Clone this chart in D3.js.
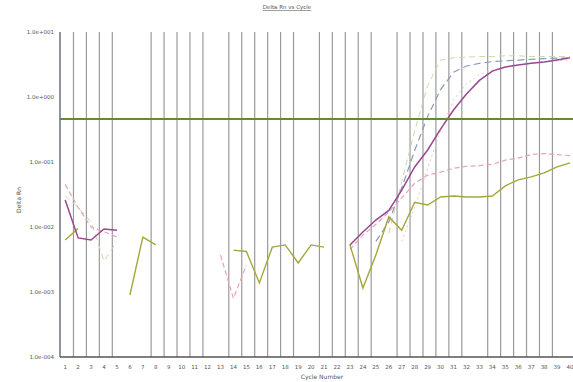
<!DOCTYPE html>
<html>
<head>
<meta charset="utf-8">
<script src="https://cdn.jsdelivr.net/npm/d3@7"></script>
<style>
  body { margin: 0; background: #fff; }
  svg { display: block; font-family: "DejaVu Sans", Arial, sans-serif; }
</style>
</head>
<body>
<div id="chart"></div>
<script>
var width = 573,
    height = 382;

// cycle numbers 1..40
var cycles = d3.range(1, 41);

// vertical grid lines (cycle they sit after)
var gridCycles = [1,2,3,4,7,8,9,10,11,13,14,15,16,17,18,20,21,22,23,24,26,27,28,29,30,31,33,34,35,36,37,38];

var yTicks = [10, 1, 0.1, 0.01, 0.001, 0.0001];
var yTickLabels = ["1.0e+001", "1.0e+000", "1.0e-001", "1.0e-002", "1.0e-003", "1.0e-004"];

var threshold = 0.46;

// Delta Rn per cycle, null = not shown
var purple = [0.026,0.0068,0.0063,0.0093,0.0089,null,null,null,null,null,
              null,null,null,null,null,null,null,null,null,null,
              null,null,0.0053,0.0084,0.0128,0.018,0.037,0.084,0.153,0.32,
              0.63,1.11,1.8,2.5,2.9,3.1,3.3,3.45,3.7,4.0];
var olive = [0.0063,0.0095,null,null,null,0.0009,0.007,0.0053,null,null,
             null,null,null,0.0044,0.0042,0.00138,0.0049,0.0053,0.0028,0.0053,
             0.0049,null,0.0053,0.00115,0.0037,0.0143,0.0089,0.024,0.0218,0.029,
             0.030,0.029,0.029,0.030,0.043,0.053,0.059,0.068,0.084,0.097];
var pink = [0.045,0.02,0.01,0.0085,0.007,null,null,null,null,null,
            null,null,0.0037,0.0008,0.0026,null,null,null,null,null,
            null,null,0.0045,0.0075,0.011,0.017,0.028,0.047,0.063,0.07,
            0.08,0.086,0.088,0.092,0.107,0.115,0.13,0.135,0.13,0.125];
var blueGrey = [null,null,null,null,null,null,null,null,null,null,
                null,null,null,null,null,null,null,null,null,null,
                null,null,null,null,0.006,0.012,0.04,0.15,0.5,1.3,
                2.4,3.0,3.3,3.5,3.6,3.7,3.8,3.9,3.95,4.0];
var lightGreen = [0.03,0.02,0.012,0.003,0.006,null,null,null,null,null,
                  null,null,null,null,null,null,null,null,null,null,
                  null,null,null,null,null,0.008,0.05,0.3,1.5,3.7,
                  4.0,4.1,4.2,4.2,4.3,4.3,4.2,4.2,4.2,4.2];
var lightPink = [null,null,null,null,null,null,null,null,null,null,
                 null,null,null,null,null,null,null,null,null,null,
                 null,null,null,null,null,null,0.006,0.02,0.08,0.3,
                 0.9,1.6,2.2,2.6,2.9,3.1,3.3,3.5,3.6,3.7];

var series = [
  {values: lightGreen, color: "#c4dca8", dash: "6,4", w: 1},
  {values: lightPink, color: "#ecc4d4", dash: "2,3", w: 1},
  {values: blueGrey, color: "#8c9cb4", dash: "7,4", w: 1.2},
  {values: pink, color: "#e4a4bc", dash: "5,3", w: 1.2},
  {values: olive, color: "#a4a838", dash: null, w: 1.4},
  {values: purple, color: "#9a4690", dash: null, w: 1.5}
];

var svg = d3.select("#chart").append("svg")
    .attr("width", width)
    .attr("height", height);

var pLeft = 60, pRight = 573, pTop = 32, pBottom = 357;

var x = d3.scaleLinear().domain([0.6, 40.23]).range([pLeft, pRight]);
var y = d3.scaleLog().domain([0.0001, 10]).range([pBottom, pTop]);

svg.append("defs").append("clipPath").attr("id", "clip")
  .append("rect").attr("x", pLeft).attr("y", pTop)
  .attr("width", pRight - pLeft).attr("height", pBottom - pTop);

// title
svg.append("text")
    .attr("x", 287).attr("y", 9)
    .attr("text-anchor", "middle")
    .style("font-size", "5.5px")
    .style("fill", "#555")
    .style("text-decoration", "underline")
    .text("Delta Rn vs Cycle");

// vertical grid
svg.selectAll(".grid")
    .data(gridCycles)
  .enter().append("line")
    .attr("class", "grid")
    .attr("x1", function(d) { return x(d + 0.64); })
    .attr("x2", function(d) { return x(d + 0.64); })
    .attr("y1", pTop)
    .attr("y2", pBottom)
    .style("stroke", "#9a9a9a")
    .style("stroke-width", 1.2);

var plot = svg.append("g").attr("clip-path", "url(#clip)");

var line = d3.line()
    .defined(function(d) { return d.v != null; })
    .x(function(d) { return x(d.c); })
    .y(function(d) { return y(d.v); });

series.forEach(function(s) {
  var pts = cycles.map(function(c, i) { return {c: c, v: s.values[i]}; });
  plot.append("path")
      .datum(pts)
      .attr("d", line)
      .style("fill", "none")
      .style("stroke", s.color)
      .style("stroke-width", s.w)
      .style("stroke-dasharray", s.dash);
});

// threshold
plot.append("line")
    .attr("x1", pLeft).attr("x2", pRight)
    .attr("y1", y(threshold)).attr("y2", y(threshold))
    .style("stroke", "#5e8c3c")
    .style("stroke-width", 2);

// axes spines
svg.append("line")
    .attr("x1", pLeft).attr("x2", pLeft).attr("y1", pTop).attr("y2", pBottom)
    .style("stroke", "#6a7080").style("stroke-width", 1.5);
svg.append("line")
    .attr("x1", pLeft).attr("x2", pRight).attr("y1", pBottom).attr("y2", pBottom)
    .style("stroke", "#555").style("stroke-width", 1.5);

// y tick labels
svg.selectAll(".ylab")
    .data(yTicks)
  .enter().append("text")
    .attr("class", "ylab")
    .attr("x", 54)
    .attr("y", function(d) { return y(d) + 2; })
    .attr("text-anchor", "end")
    .style("font-size", "5.5px")
    .style("fill", "#555")
    .text(function(d, i) { return yTickLabels[i]; });

// x tick labels
svg.selectAll(".xlab")
    .data(cycles)
  .enter().append("text")
    .attr("class", "xlab")
    .attr("x", function(d) { return x(d); })
    .attr("y", 369)
    .attr("text-anchor", "middle")
    .style("font-size", "5.5px")
    .style("fill", "#555")
    .text(function(d) { return d; });

svg.append("text")
    .attr("x", 322).attr("y", 379)
    .attr("text-anchor", "middle")
    .style("font-size", "6px")
    .style("fill", "#555")
    .text("Cycle Number");

svg.append("text")
    .attr("transform", "translate(21,200) rotate(-90)")
    .attr("text-anchor", "middle")
    .style("font-size", "6px")
    .style("fill", "#555")
    .text("Delta Rn");
</script>
</body>
</html>
